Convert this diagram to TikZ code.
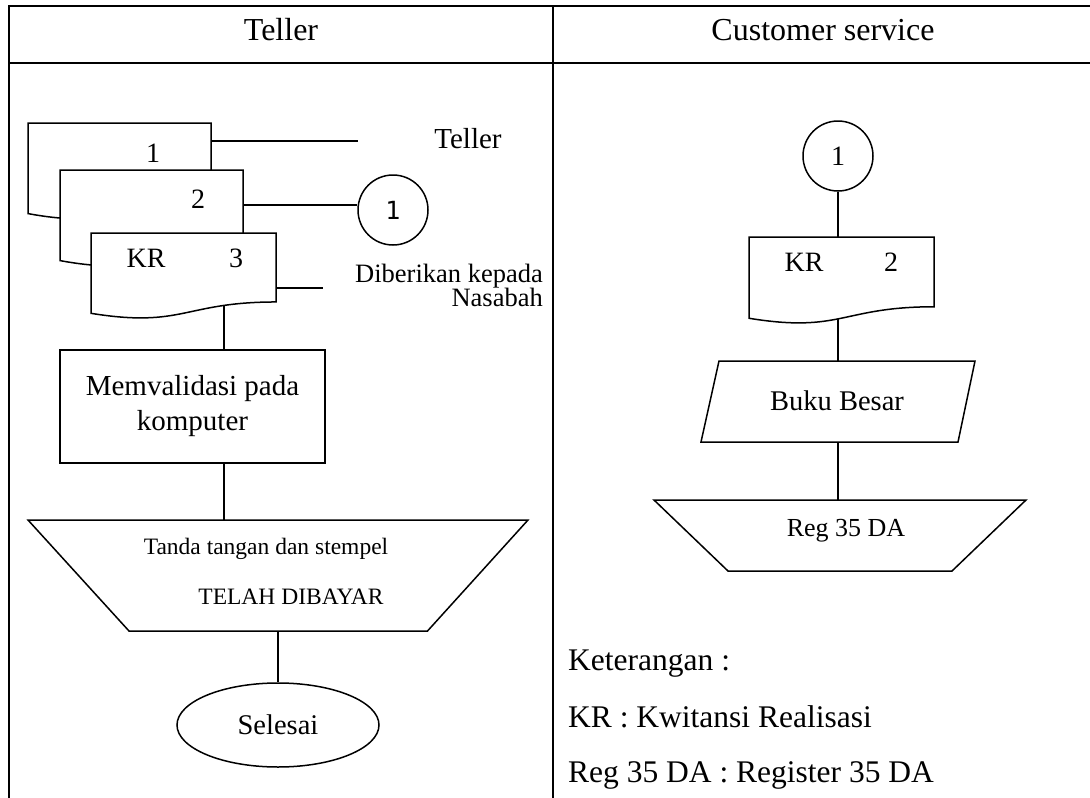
\documentclass[tikz,border=0pt]{standalone}
\usepackage{fontspec}
\setmainfont{Liberation Serif}
\newfontfamily\monofnt{DejaVu Sans Mono}
\usetikzlibrary{shapes.geometric}
\newcommand{\docpath}[4]{% xl, xr, top, H
  \draw[sline, fill=white] (#1,#3) -- (#2,#3) -- (#2,{#3+0.802*#4})
    .. controls ({(#1+#2)/2},{#3+0.802*#4}) and ({(#1+#2)/2},{#3+1.1075*#4}) .. (#1,{#3+0.934*#4}) -- cycle;}
\begin{document}
\begin{tikzpicture}[x=1pt,y=-1pt,
  tline/.style={line width=2pt},
  sline/.style={line width=1.5pt, line join=miter},
  lbl/.style={inner sep=0pt, anchor=base},
  fA/.style={font=\fontsize{32}{38}\selectfont},
  fB/.style={font=\fontsize{28}{34}\selectfont},
  fC/.style={font=\fontsize{26.5}{31}\selectfont},
  fD/.style={font=\fontsize{31.5}{38}\selectfont},
]
\useasboundingbox (0,0) rectangle (1090,798);
\fill[white] (0,0) rectangle (1090,798);
% ---------- table ----------
\draw[tline] (9,798) -- (9,6) -- (1090,6);
\draw[tline] (9,63) -- (1090,63);
\draw[tline] (553,6) -- (553,798);
\node[lbl, fA] (hT) at (281,40) {Teller};
\node[lbl, fA] (hC) at (823,40) {Customer service};

% ---------- left column ----------
\coordinate (d1r) at (211,141);
\coordinate (tlend) at (358,141);
\coordinate (d2r) at (243,205);
\coordinate (d3r) at (276,288);
\coordinate (dlend) at (323,288);
\coordinate (c1) at (224,300);
\coordinate (lt1) at (28,520);
\coordinate (lt2) at (528,520);
\coordinate (lt3) at (427.5,631);
\coordinate (lt4) at (129,631);

\node[draw, sline, circle, minimum size=70pt, inner sep=0pt, font=\monofnt\fontsize{25}{30}\selectfont] (lc) at (393,210) {1};
\node[draw, sline, minimum width=265pt, minimum height=113pt, inner sep=0pt, align=center, font=\fontsize{29}{35}\selectfont] (val) at (192.5,406.5) {Memvalidasi pada\\komputer};
\node[draw, sline, ellipse, minimum width=202pt, minimum height=84pt, inner sep=0pt, font=\fontsize{28.5}{34}\selectfont] (sel) at (278,725) {Selesai};

% connectors
\draw[sline] (d1r) -- (tlend);
\draw[sline] (d2r) -- (lc.west |- d2r);
\draw[sline] (d3r) -- (dlend);
\draw[sline] (c1) -- (c1 |- val.north);
\draw[sline] (val.south -| c1) -- (c1 |- lt1);
\draw[sline] (sel.north |- lt4) -- (sel.north);

% documents
\docpath{28}{211}{123}{97}
\docpath{60}{243}{170}{97}
\docpath{91}{276}{233}{86}
\node[lbl, fB] (n1) at (153,162) {1};
\node[lbl, fB] (n2) at (198,208) {2};
\node[lbl, fB] (kr1) at (146,267) {KR};
\node[lbl, fB] (n3) at (236,267) {3};

\node[lbl, font=\fontsize{29}{34}\selectfont] (tl) at (468,148) {Teller};
\node[lbl, fC, anchor=base east] (dk1) at (543,282) {Diberikan kepada};
\node[lbl, fC, anchor=base east] (dk2) at (543,306) {Nasabah};

% trapezoid (manual operation)
\draw[sline, fill=white] (lt1) -- (lt2) -- (lt3) -- (lt4) -- cycle;
\node[lbl, font=\fontsize{23.5}{28}\selectfont] (td) at (266,554) {Tanda tangan dan stempel};
\node[lbl, font=\fontsize{23.5}{28}\selectfont] (tb) at (291,604) {TELAH DIBAYAR};

% ---------- right column ----------
\coordinate (rdt) at (838,237);
\coordinate (rdb) at (838,312);
\coordinate (pa) at (719,361);
\coordinate (pb) at (975,361);
\coordinate (pc) at (958,442);
\coordinate (pd) at (701,442);
\coordinate (ra) at (654,500);
\coordinate (rb) at (1026,500);
\coordinate (rc) at (952,571);
\coordinate (rd) at (728,571);

\node[draw, sline, circle, minimum size=70pt, inner sep=0pt, fB] (rcir) at (838,156) {1};
\draw[sline] (rcir.south) -- (rdt);
\draw[sline] (rdb) -- (rdb |- pa);
\draw[sline] (rdb |- pd) -- (rdb |- ra);
\docpath{749}{934}{237}{87}
\node[lbl, fB] (kr2) at (804,271) {KR};
\node[lbl, fB] (n2r) at (891,271) {2};

\draw[sline, fill=white] (pa) -- (pb) -- (pc) -- (pd) -- cycle;
\node[lbl, font=\fontsize{28.5}{34}\selectfont] (bb) at (837,410) {Buku Besar};

\draw[sline, fill=white] (ra) -- (rb) -- (rc) -- (rd) -- cycle;
\node[lbl, font=\fontsize{26}{31}\selectfont] (reg) at (846,536) {Reg 35 DA};

\node[lbl, fD, anchor=base west] (k1) at (568,670) {Keterangan :};
\node[lbl, fD, anchor=base west] (k2) at (568,727) {KR : Kwitansi Realisasi};
\node[lbl, fD, anchor=base west] (k3) at (568,782) {Reg 35 DA : Register 35 DA};
\end{tikzpicture}
\end{document}
